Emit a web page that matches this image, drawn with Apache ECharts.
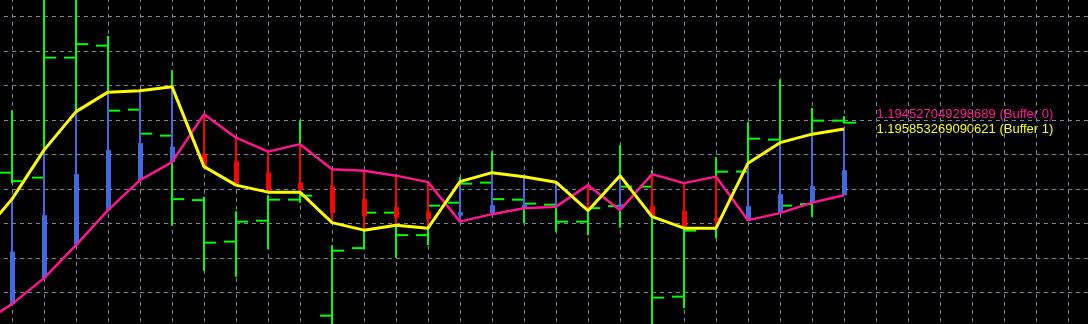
<!DOCTYPE html>
<html>
<head>
<meta charset="utf-8">
<script src="https://cdn.jsdelivr.net/npm/echarts@6/dist/echarts.min.js"></script>
<style>
  html, body { margin: 0; padding: 0; background: #000; }
  #chart { width: 1088px; height: 324px; }
</style>
</head>
<body>
<div id="chart"></div>
<script>
//--------------------- Data ---------------------------//
// bar positions (bar -1 sits just off the left edge)
const bars = [-1, 0, 1, 2, 3, 4, 5, 6, 7, 8, 9, 10, 11, 12, 13, 14, 15, 16, 17, 18, 19, 20, 21, 22, 23, 24, 25, 26];

// price bars (OHLC)
const open  = [null, 1.19498, 1.19488, 1.19728, 1.19752, 1.19624, 1.19572, 1.19443, 1.19360, 1.19402, 1.19444, 1.19212, 1.19347, 1.19418, 1.19373, 1.19438, 1.19478, 1.19444, 1.19434, 1.19400, 1.19431, 1.19470, 1.19250, 1.19387, 1.19500, 1.19564, 1.19435, 1.19602];
const high  = [null, 1.19623, 1.19883, 1.19883, 1.19772, 1.19653, 1.19703, 1.19450, 1.19421, 1.19453, 1.19603, 1.19353, 1.19433, 1.19433, 1.19443, 1.19489, 1.19541, 1.19463, 1.19453, 1.19453, 1.19553, 1.19503, 1.19413, 1.19529, 1.19599, 1.19685, 1.19628, 1.19611];
const low   = [null, 1.19477, 1.19473, 1.19603, 1.19613, 1.19563, 1.19392, 1.19302, 1.19290, 1.19345, 1.19438, 1.19163, 1.19345, 1.19328, 1.19353, 1.19423, 1.19433, 1.19397, 1.19380, 1.19373, 1.19388, 1.19163, 1.19227, 1.19367, 1.19483, 1.19423, 1.19410, 1.19597];
const close = [null, 1.19481, 1.19728, 1.19755, 1.19622, 1.19576, 1.19445, 1.19358, 1.19400, 1.19444, 1.19452, 1.19342, 1.19418, 1.19373, 1.19432, 1.19476, 1.19445, 1.19436, 1.19400, 1.19427, 1.19470, 1.19248, 1.19382, 1.19500, 1.19566, 1.19432, 1.19602, 1.19598];

// indicator buffers
const buffer0 = [1.19194, 1.19235, 1.19287, 1.19353, 1.19423, 1.19483, 1.19519, 1.19615, 1.19568, 1.19540, 1.19555, 1.19505, 1.19502, 1.19492, 1.19479, 1.19400, 1.19415, 1.19427, 1.19430, 1.19473, 1.19423, 1.19495, 1.19477, 1.19490, 1.19403, 1.19417, 1.19438, 1.194527049298689];
const buffer1 = [1.19370, 1.19445, 1.19543, 1.19620, 1.19659, 1.19662, 1.19670, 1.19510, 1.19473, 1.19459, 1.19459, 1.19398, 1.19383, 1.19393, 1.19387, 1.19480, 1.19498, 1.19490, 1.19479, 1.19422, 1.19492, 1.19410, 1.19387, 1.19387, 1.19517, 1.19558, 1.19575, 1.195853269090621];

// histogram bodies
const bodyHigh = [null, 1.19340, 1.19413, 1.19495, 1.19543, 1.19557, 1.19550, 1.19535, 1.19521, 1.19498, 1.19478, 1.19471, 1.19445, 1.19429, 1.19420, 1.19419, 1.19433, 1.19434, 1.19432, 1.19422, 1.19435, 1.19431, 1.19421, 1.19407, 1.19431, 1.19455, 1.19471, 1.19503];
const bodyLow  = [null, 1.19235, 1.19287, 1.19353, 1.19423, 1.19483, 1.19519, 1.19510, 1.19475, 1.19462, 1.19463, 1.19417, 1.19411, 1.19408, 1.19405, 1.19412, 1.19417, 1.19426, 1.19430, 1.19422, 1.19429, 1.19411, 1.19389, 1.19402, 1.19403, 1.19418, 1.19439, 1.194527];

const labels = ['1.194527049298689 (Buffer 0)', '1.195853269090621 (Buffer 1)'];

//--------------------- Styles ---------------------------//
const GRID_COLOR = '#778899';
const BAR_COLOR = '#00ff00';
const UP_COLOR = '#4169e1';
const DOWN_COLOR = '#ff0000';
const PINK = '#ff1493';
const YELLOW = '#ffff00';

//--------------------- Series data ---------------------------//
const ohlcData = [];
const wickData = [];
const bodyData = [];
bars.forEach((b, i) => {
  if (open[i] != null) ohlcData.push([b, open[i], high[i], low[i], close[i]]);
  wickData.push([b, buffer1[i], buffer0[i]]);
  if (bodyHigh[i] != null) bodyData.push([b, bodyHigh[i], bodyLow[i], buffer1[i] > buffer0[i] ? 1 : 0]);
});
const pinkLine = bars.map((b, i) => [b, buffer0[i]]);
const yellowLine = bars.map((b, i) => [b, buffer1[i]]);

// Green bar: high-low line, open tick on the left, close tick on the right
function renderOHLC(params, api) {
  const x = api.value(0);
  const o = api.coord([x, api.value(1)]);
  const h = api.coord([x, api.value(2)]);
  const l = api.coord([x, api.value(3)]);
  const c = api.coord([x, api.value(4)]);
  const tick = api.size([1, 0])[0] * 0.375;
  const style = { stroke: BAR_COLOR, lineWidth: 2 };
  return {
    type: 'group',
    children: [
      { type: 'line', shape: { x1: h[0], y1: h[1], x2: l[0], y2: l[1] }, style },
      { type: 'line', shape: { x1: o[0] - tick, y1: o[1], x2: o[0], y2: o[1] }, style },
      { type: 'line', shape: { x1: c[0], y1: c[1], x2: c[0] + tick, y2: c[1] }, style },
    ],
  };
}

// Thin histogram between the two buffers
function renderWick(params, api) {
  const x = api.value(0);
  const a = api.coord([x, api.value(1)]);
  const b = api.coord([x, api.value(2)]);
  const color = api.value(1) > api.value(2) ? UP_COLOR : DOWN_COLOR;
  return {
    type: 'line',
    shape: { x1: a[0], y1: a[1], x2: b[0], y2: b[1] },
    style: { stroke: color, lineWidth: 2 },
  };
}

// Thick histogram body
function renderBody(params, api) {
  const x = api.value(0);
  const top = api.coord([x, api.value(1)]);
  const bot = api.coord([x, api.value(2)]);
  return {
    type: 'rect',
    shape: { x: top[0] - 2, y: top[1], width: 5, height: bot[1] - top[1] },
    style: { fill: api.value(3) ? UP_COLOR : DOWN_COLOR },
  };
}

//--------------------- Chart ---------------------------//
const chart = echarts.init(document.getElementById('chart'), null, { renderer: 'canvas' });
const hiddenAxis = { axisLine: { show: false }, axisTick: { show: false }, axisLabel: { show: false } };
const dashed = { show: true, lineStyle: { color: GRID_COLOR, type: [4, 4], width: 1 } };

chart.setOption({
  animation: false,
  backgroundColor: '#000000',
  grid: { left: -20, right: -44, top: -18.2, bottom: -2.8, outerBoundsMode: 'none', containLabel: false },
  xAxis: Object.assign({ type: 'value', min: -1, max: 35, interval: 1, splitLine: dashed }, hiddenAxis),
  yAxis: [
    { type: 'value', min: 1.191897, max: 1.198797, show: false, splitLine: { show: false } },
    Object.assign({ type: 'value', min: 0, max: 10, interval: 1, splitLine: dashed }, hiddenAxis),
  ],
  series: [
    {
      name: 'bars', type: 'custom', renderItem: renderOHLC, data: ohlcData, z: 2,
      markLine: {
        silent: true, symbol: 'none', label: { show: false },
        lineStyle: { color: GRID_COLOR, type: 'solid', width: 1 },
        data: [{ yAxis: close[close.length - 1] }],
      },
    },
    { name: 'wick', type: 'custom', renderItem: renderWick, data: wickData, z: 3 },
    { name: 'body', type: 'custom', renderItem: renderBody, data: bodyData, z: 4 },
    {
      name: 'Buffer 0', type: 'line', data: pinkLine, symbol: 'none', z: 5,
      lineStyle: { color: PINK, width: 2.5 },
    },
    {
      name: 'Buffer 1', type: 'line', data: yellowLine, symbol: 'none', z: 6,
      lineStyle: { color: YELLOW, width: 3 },
    },
  ],
  graphic: [
    { type: 'text', left: 876.5, top: 108, style: { text: labels[0], fill: PINK, font: '13px "Liberation Sans", Arial, sans-serif' } },
    { type: 'text', left: 876.5, top: 122.6, style: { text: labels[1], fill: YELLOW, font: '13px "Liberation Sans", Arial, sans-serif' } },
  ],
});
</script>
</body>
</html>
